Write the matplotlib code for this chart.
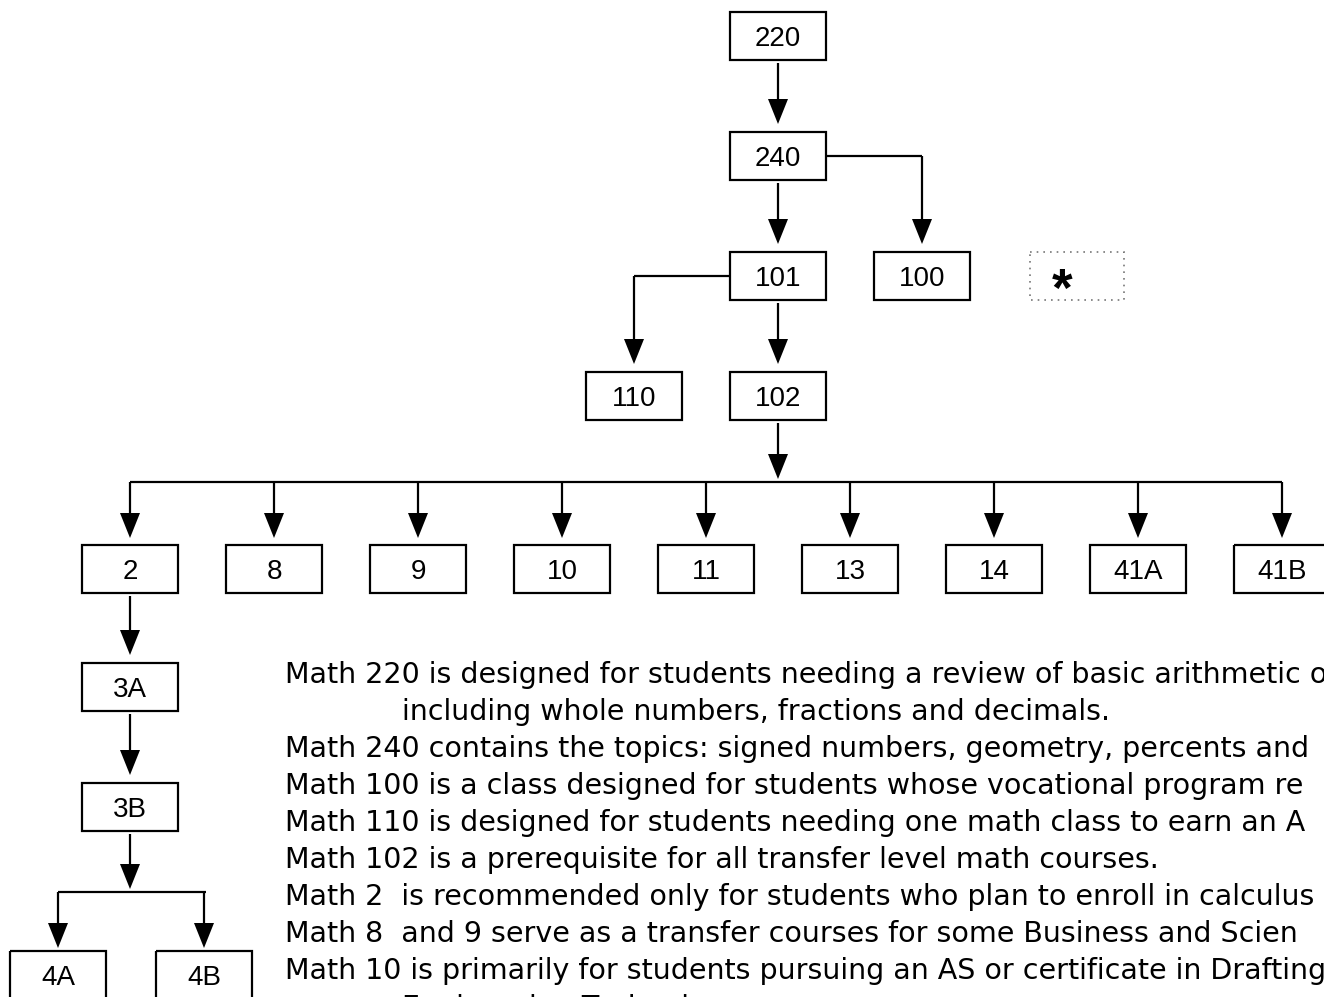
import matplotlib.pyplot as plt
from matplotlib.patches import Rectangle, Polygon

plt.rcParams['font.family'] = ['Liberation Sans', 'DejaVu Sans']

# course names
top_chain = ['220', '240', '101', '102']
side_courses = ['100', '110']
transfer_courses = ['2', '8', '9', '10', '11', '13', '14', '41A', '41B']
calc_chain = ['3A', '3B']
calc_split = ['4A', '4B']

# prerequisite links (parent -> child)
edges = [('220', '240'), ('240', '101'), ('240', '100'),
         ('101', '102'), ('101', '110'), ('2', '3A'), ('3A', '3B')]

# notes as far as they show in the source (it is cut at the right edge)
notes = [
    (0, 'Math 220 is designed for students needing a review of basic arithmetic o'),
    (1, 'including whole numbers, fractions and decimals.'),
    (0, 'Math 240 contains the topics: signed numbers, geometry, percents and'),
    (0, 'Math 100 is a class designed for students whose vocational program re'),
    (0, 'Math 110 is designed for students needing one math class to earn an A'),
    (0, 'Math 102 is a prerequisite for all transfer level math courses.'),
    (0, 'Math 2  is recommended only for students who plan to enroll in calculus'),
    (0, 'Math 8  and 9 serve as a transfer courses for some Business and Scien'),
    (0, 'Math 10 is primarily for students pursuing an AS or certificate in Drafting,'),
    (1, 'Engineering Technology'),
]

# ---- layout (pixel coordinates, y downward) ----
W, H = 1324, 997
BW, BH = 96, 48
pos = {'220': (778, 36), '240': (778, 156), '101': (778, 276),
       '100': (922, 276), '110': (634, 396), '102': (778, 396),
       '3A': (130, 687), '3B': (130, 807), '4A': (58, 975), '4B': (204, 975)}
for i, c in enumerate(transfer_courses):
    pos[c] = (130 + 144 * i, 569)
star_pos = (1077, 276)

LW = 1.6
HEAD_L, HEAD_W = 25, 20

fig = plt.figure(figsize=(W / 100, H / 100), dpi=100)
ax = fig.add_axes([0, 0, 1, 1])
ax.set_xlim(0, W)
ax.set_ylim(H, 0)
ax.axis('off')


def box(name):
    x, y = pos[name]
    ax.add_patch(Rectangle((x - BW / 2, y - BH / 2), BW, BH, fill=False,
                           edgecolor='black', linewidth=LW))
    ax.text(x, y + 3, name, ha='center', va='center', fontsize=20)


def line(xs, ys):
    ax.plot(xs, ys, color='black', linewidth=LW, solid_capstyle='butt')


def arrow_down(x, y0, y1):
    line([x, x], [y0, y1 - HEAD_L + 2])
    ax.add_patch(Polygon([(x - HEAD_W / 2, y1 - HEAD_L), (x + HEAD_W / 2, y1 - HEAD_L), (x, y1)],
                         closed=True, color='black', linewidth=0))


for name in top_chain + side_courses + transfer_courses + calc_chain + calc_split:
    box(name)

for a, b in edges:
    xa, ya = pos[a]
    xb, yb = pos[b]
    tip = yb - BH / 2 - 8
    if xa == xb:
        arrow_down(xa, ya + BH / 2 + 3, tip)
    else:
        sx = xa + BW / 2 if xb > xa else xa - BW / 2
        line([sx, xb], [ya, ya])
        arrow_down(xb, ya, tip)

# 102 fans out to the transfer level courses
bus_y = 482
x102, y102 = pos['102']
arrow_down(x102, y102 + BH / 2 + 3, bus_y - 3)
line([pos[transfer_courses[0]][0], pos[transfer_courses[-1]][0]], [bus_y, bus_y])
for c in transfer_courses:
    arrow_down(pos[c][0], bus_y, pos[c][1] - BH / 2 - 7)

# 3B splits to 4A / 4B
split_y = 892
x3b, y3b = pos['3B']
arrow_down(x3b, y3b + BH / 2 + 3, split_y - 3)
line([pos['4A'][0], pos['4B'][0] + 2], [split_y, split_y])
for c in calc_split:
    arrow_down(pos[c][0], split_y, pos[c][1] - BH / 2 - 3)

# dotted star box
sx, sy = star_pos
ax.add_patch(Rectangle((sx - 47, sy - 24), 94, 48, fill=False, edgecolor='#777777',
                       linewidth=1.2, linestyle=(0, (1, 3))))
ax.text(sx - 15, sy + 16, '*', ha='center', va='center', fontsize=38, fontweight='bold')

# notes
for i, (indent, txt) in enumerate(notes):
    ax.text(285 + 117 * indent, 683 + 37 * i, txt, ha='left', va='baseline',
            fontsize=20.5, family='DejaVu Sans')

fig.savefig('out.png', dpi=100)
